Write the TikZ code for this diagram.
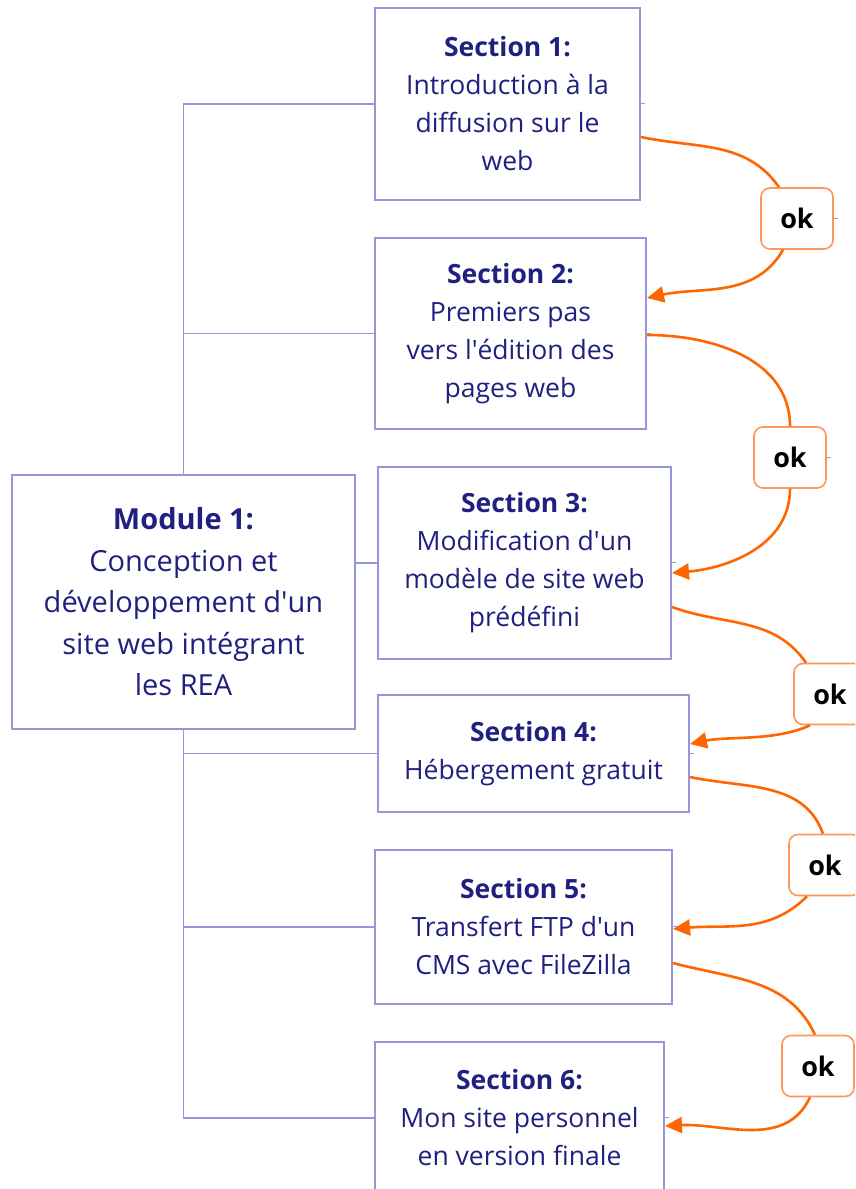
\documentclass[tikz,border=0pt]{standalone}
\usepackage{fontspec}
\setmainfont{Open Sans}
\usetikzlibrary{arrows.meta}
\definecolor{boxline}{RGB}{150,150,218}
\definecolor{ink}{RGB}{32,32,128}
\definecolor{flow}{RGB}{255,102,0}
\definecolor{okline}{RGB}{255,150,90}
\newcommand{\ap}{\textquotesingle}

\begin{document}
\begin{tikzpicture}[x=1pt,y=1pt,
  box/.style={draw=boxline, line width=2pt, fill=white, inner sep=0pt,
    align=center, text=ink, font=\fontsize{26.5}{38}\selectfont},
  okbox/.style={draw=okline, line width=1.6pt, rounded corners=9pt, fill=white,
    inner sep=0pt, minimum width=72pt, minimum height=61pt,
    font=\fontsize{27}{28}\selectfont\bfseries, text=black},
  tree/.style={draw=boxline, line width=1.8pt},
  stub/.style={draw=boxline, line width=1pt},
  flowout/.style={draw=flow, line width=2.6pt},
  flowin/.style={draw=flow, line width=2.6pt, -{Triangle[length=17pt,width=16pt]}}
]
\useasboundingbox (0,0) rectangle (855,1189);
\clip (0,0) rectangle (855,1189);

% module and sections
\node[box, minimum width=343pt, minimum height=254pt, font=\fontsize{29}{41.5}\selectfont]
  (m) at (183.5,587) {\textbf{Module 1:}\\Conception et\\développement d\ap un\\site web intégrant\\les REA};
\node[box, minimum width=265pt, minimum height=192pt] (s1) at (507.5,1085)
  {\textbf{Section 1:}\\Introduction à la\\diffusion sur le\\web};
\node[box, minimum width=271pt, minimum height=191pt] (s2) at (510.5,855.5)
  {\textbf{Section 2:}\\Premiers pas\\vers l\ap édition des\\pages web};
\node[box, minimum width=293pt, minimum height=192pt] (s3) at (524.5,626)
  {\textbf{Section 3:}\\Modification d\ap un\\modèle de site web\\prédéfini};
\node[box, minimum width=311pt, minimum height=117pt] (s4) at (533.5,435.5)
  {\textbf{Section 4:}\\Hébergement gratuit};
\node[box, minimum width=297pt, minimum height=154pt] (s5) at (523.5,262)
  {\textbf{Section 5:}\\Transfert FTP d\ap un\\CMS avec FileZilla};
\node[box, minimum width=289pt, minimum height=152pt] (s6) at (519.5,71)
  {\textbf{Section 6:}\\Mon site personnel\\en version finale};

% validation tags
\node[okbox] (ok1) at (797,970.5) {ok};
\node[okbox] (ok2) at (790,731.5) {ok};
\node[okbox] (ok3) at (830,495) {ok};
\node[okbox] (ok4) at (825,324) {ok};
\node[okbox] (ok5) at (818,123) {ok};

% tree connectors
\draw[tree] (s1.west) -| (m.north);
\draw[tree] (s2.west) -| (m.north);
\draw[tree] (m.east |- s3.west) -- (s3.west);
\draw[tree] (s4.west) -| (m.south);
\draw[tree] (s5.west) -| (m.south);
\draw[tree] (s6.west) -| (m.south);

% small stubs on the right edges
\foreach \n in {s1,s2,s3,s4,s5,s6,ok1,ok2,ok3,ok4,ok5}
  \draw[stub] (\n.east) -- ++(4,0);

% validation flow
\draw[flowout] ([yshift=-33pt]s1.east) to[out=-12, in=125] ([xshift=-18pt]ok1.north);
\draw[flowin]  ([xshift=-14pt]ok1.south) to[out=-120, in=12] ([yshift=35.5pt]s2.east);
\draw[flowout] ([yshift=-1.5pt]s2.east) to[out=0, in=90] (ok2.north);
\draw[flowin]  (ok2.south) to[out=-90, in=5] ([yshift=-10pt]s3.east);
\draw[flowout] ([yshift=-44pt]s3.east) to[out=-20, in=125] ([xshift=-24pt]ok3.north);
\draw[flowin]  ([xshift=-20pt]ok3.south) to[out=-155, in=12, looseness=0.8] ([yshift=9.5pt]s4.east);
\draw[flowout] ([yshift=-23.5pt]s4.east) to[out=-12, in=110] ([xshift=-2pt]ok4.north);
\draw[flowin]  ([xshift=-18pt]ok4.south) to[out=-135, in=5] ([yshift=-2pt]s5.east);
\draw[flowout] ([yshift=-36pt]s5.east) to[out=-15, in=115] ([xshift=-3pt]ok5.north);
\draw[flowin]  ([xshift=-8pt]ok5.south) to[out=-115, in=3] ([yshift=-8pt]s6.east);
\end{tikzpicture}
\end{document}
